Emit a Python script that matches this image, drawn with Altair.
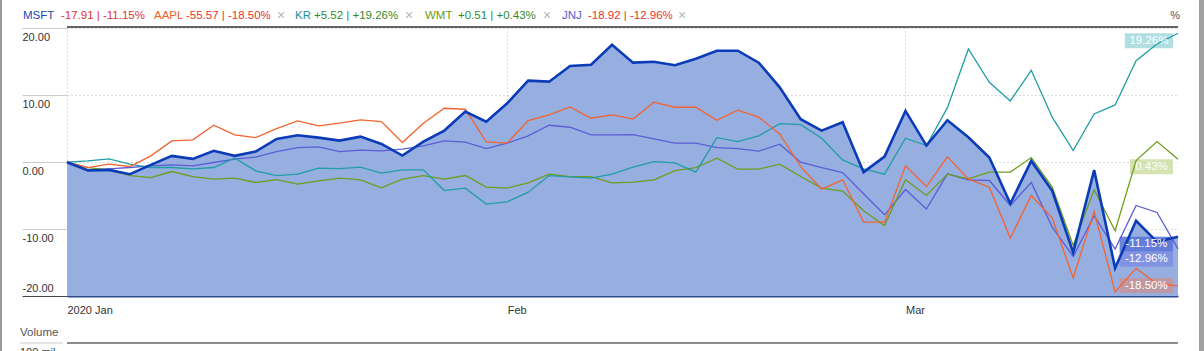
import altair as alt
import pandas as pd

# ---------------- data ----------------
dates = [
    "2020-01-02", "2020-01-03", "2020-01-06", "2020-01-07", "2020-01-08", "2020-01-09", "2020-01-10",
    "2020-01-13", "2020-01-14", "2020-01-15", "2020-01-16", "2020-01-17", "2020-01-21", "2020-01-22",
    "2020-01-23", "2020-01-24", "2020-01-27", "2020-01-28", "2020-01-29", "2020-01-30", "2020-01-31",
    "2020-02-03", "2020-02-04", "2020-02-05", "2020-02-06", "2020-02-07", "2020-02-10", "2020-02-11",
    "2020-02-12", "2020-02-13", "2020-02-14", "2020-02-18", "2020-02-19", "2020-02-20", "2020-02-21",
    "2020-02-24", "2020-02-25", "2020-02-26", "2020-02-27", "2020-02-28",
    "2020-03-02", "2020-03-03", "2020-03-04", "2020-03-05", "2020-03-06", "2020-03-09", "2020-03-10",
    "2020-03-11", "2020-03-12", "2020-03-13", "2020-03-16", "2020-03-17", "2020-03-18", "2020-03-19",
]
msft = [0, -1.25, -1.15, -1.8, -0.4, 0.94, 0.49, 1.69, 0.94, 1.58, 3.48, 4.03, 3.67, 3.22, 3.82, 2.73,
        0.99, 3.07, 4.72, 7.55, 6.06, 8.8, 12.18, 12.03, 14.37, 14.57, 17.55, 14.87, 15.01, 14.48, 15.46,
        16.66, 16.66, 14.87, 11.19, 6.42, 4.72, 5.97, -1.49, 0.84, 7.66, 2.48, 6.27, 3.73, 0.69, -6.18,
        0.19, -4.28, -13.49, -1.19, -15.82, -8.76, -11.9, -11.15]
aapl = [0, -0.8, -0.3, -0.65, 0.94, 3.18, 3.33, 5.52, 4.07, 3.67, 5.01, 6.16, 5.42, 5.82, 6.31, 6.06,
        2.93, 5.82, 8.06, 7.91, 3.03, 2.84, 6.21, 7.06, 8.25, 6.57, 7.06, 6.46, 8.96, 8.21, 8.21, 6.27,
        7.76, 6.72, 4.22, -0.66, -4.03, -2.64, -8.96, -8.96, -0.55, -3.64, 0.79, -2.49, -3.73, -11.34,
        -4.98, -8.36, -17.31, -7.37, -19.4, -15.88, -18.16, -18.50]
kr = [0, 0.19, 0.49, -0.3, -0.8, -0.8, -1.0, -0.8, 0.64, -1.3, -2.0, -1.8, -0.9, -0.95, -0.75, -1.64,
      -1.15, -1.15, -4.24, -3.88, -6.27, -5.92, -4.48, -2.0, -2.19, -2.39, -1.79, -0.75, 0.09, -0.1,
      -1.49, 3.67, 3.07, 3.93, 5.76, 5.61, 3.58, 0.34, -1.0, -1.79, 3.58, 2.48, 8.15, 16.91, 11.94, 9.15,
      13.73, 6.72, 1.73, 7.21, 8.55, 15.16, 17.66, 19.26]
wmt = [0, -0.8, -1.15, -2.0, -2.3, -1.4, -2.15, -2.54, -2.39, -3.04, -2.6, -3.28, -2.79, -2.39, -2.64,
       -3.84, -2.54, -2.0, -2.54, -2.0, -3.73, -3.88, -3.09, -1.79, -2.15, -2.15, -3.09, -2.99, -2.64,
       -1.25, -0.8, 0.6, -1.05, -1.05, -0.3, -2.15, -3.88, -4.33, -7.27, -9.46, -2.64, -4.98, -1.79,
       -2.49, -1.49, -1.49, 0.69, -3.73, -12.45, -4.13, -10.25, 0.24, 3.07, 0.43]
jnj = [0, -1.15, -1.0, -0.8, -0.55, -0.4, -0.55, -0.05, 0.45, 0.75, 1.58, 2.18, 2.28, 1.58, 1.79, 1.69,
       1.94, 2.43, 3.18, 2.99, 2.03, 2.84, 3.93, 5.52, 5.22, 4.07, 4.07, 4.12, 3.48, 2.84, 2.84, 2.18,
       2.03, 1.64, 2.69, 0.0, -0.8, -1.55, -4.73, -7.87, -4.08, -7.01, -1.75, -2.64, -2.74, -6.47,
       -3.04, -9.7, -14.09, -8.01, -12.99, -6.47, -7.52, -12.96]

tickers = ["MSFT", "AAPL", "KR", "WMT", "JNJ"]
price_change = ["-17.91", "-55.57", "+5.52", "+0.51", "-18.92"]
pct_change = ["-11.15%", "-18.50%", "+19.26%", "+0.43%", "-12.96%"]
y_ticks = [20, 10, 0, -10, -20]
month_labels = ["2020 Jan", "Feb", "Mar"]

# ---------------- style ----------------
FONT = "Liberation Sans"
W, H = 1111, 269
Y_MIN, Y_MAX = -20, 20.2
line_colors = {"MSFT": "#0b3cb8", "AAPL": "#f4632f", "KR": "#1f9ea3", "WMT": "#6f9c1c", "JNJ": "#5b5ed6"}
legend_colors = {"MSFT": "#2346b0", "AAPL": "#f2612a", "KR": "#1f93a0", "WMT": "#6d9a14", "JNJ": "#5560d0"}
box_colors = {"MSFT": "#5d76d8", "AAPL": "#c2969e", "KR": "#a9dadd", "WMT": "#cfe0a8", "JNJ": "#7e90e2"}
AREA_FILL = "#97aee0"

idx = list(range(len(dates)))
series = {"MSFT": msft, "AAPL": aapl, "KR": kr, "WMT": wmt, "JNJ": jnj}
df = pd.DataFrame({"idx": idx, "date": dates, **series})

# month starts (first trading day of each month)
month_idx = []
seen = set()
for i, d in enumerate(dates):
    m = d[:7]
    if m not in seen:
        seen.add(m)
        month_idx.append(i)
label_expr = " : ".join(
    f"datum.value == {i} ? '{lab}'" for i, lab in zip(month_idx, month_labels)
) + " : ''"

xscale = alt.Scale(domain=[0, len(dates) - 1], nice=False, zero=False)
yscale = alt.Scale(domain=[Y_MIN, Y_MAX], nice=False, zero=False)

xaxis = alt.Axis(values=month_idx, labelExpr=label_expr, title=None, grid=True,
                 gridDash=[1, 3], gridColor="#b8b8b8", ticks=False, labelAlign="left",
                 labelBaseline="top", labelPadding=8, labelFontSize=11, labelColor="#333333",
                 labelFont=FONT, domainColor="#2d4a8c", domainWidth=2)
yaxis = alt.Axis(values=y_ticks, title=None, grid=True, gridDash=[1, 3], gridColor="#b8b8b8",
                 domain=False, tickSize=45, tickWidth=1.2,
                 tickColor={"condition": {"test": "datum.value <= -20", "value": "#444444"}, "value": "#cccccc"},
                 labelAlign="left", labelPadding=0, labelFontSize=11, labelColor="#333333", labelFont=FONT,
                 labelBaseline={"condition": {"test": "datum.value <= -20", "value": "bottom"}, "value": "top"},
                 labelOffset={"condition": {"test": "datum.value <= -20", "value": -3}, "value": 3},
                 labelExpr="(datum.value < 0 ? '-' : '') + format(abs(datum.value), '.2f')")

X = alt.X("idx:Q", scale=xscale, axis=xaxis)

area = alt.Chart(df).mark_area(color=AREA_FILL, opacity=1).encode(
    x=X, y=alt.Y("MSFT:Q", scale=yscale, axis=yaxis), y2=alt.datum(Y_MIN)
)

# value label boxes at the right end
px_per_idx = W / (len(dates) - 1)
px_per_unit = H / (Y_MAX - Y_MIN)
box_h = 15 / px_per_unit
right = (len(dates) - 1) - 5 / px_per_idx
rows = []
order = sorted(tickers, key=lambda t: -series[t][-1])
prev_bottom = Y_MAX
for t in order:
    v = series[t][-1]
    top = min(v, prev_bottom)
    prev_bottom = top - box_h
    rows.append([t, v, top])
# push up from the bottom edge
limit = Y_MIN + 3 / px_per_unit
for k in range(len(rows) - 1, -1, -1):
    bottom = rows[k][2] - box_h
    if bottom < limit:
        rows[k][2] += limit - bottom
        limit = rows[k][2]
    else:
        break
lab_rows = []
for t, v, top in rows:
    txt = f"{v:.2f}%"
    w = (5.2 * len(txt) + 17) / px_per_idx
    lab_rows.append({"t": t, "lab": txt, "x0": right - w, "x1": right, "xc": right - w / 2,
                     "top": top, "bot": top - box_h, "yc": top - box_h / 2, "fill": box_colors[t]})
lab_df = pd.DataFrame(lab_rows)

boxes = alt.Chart(lab_df).mark_rect(opacity=0.9).encode(
    x=alt.X("x0:Q", scale=xscale, axis=xaxis), x2="x1:Q",
    y=alt.Y("top:Q", scale=yscale, axis=yaxis), y2="bot:Q",
    color=alt.Color("fill:N", scale=None),
)
box_text = alt.Chart(lab_df).mark_text(color="white", fontSize=11.5, font=FONT, baseline="middle").encode(
    x=alt.X("xc:Q", scale=xscale, axis=xaxis), y=alt.Y("yc:Q", scale=yscale, axis=yaxis), text="lab:N"
)

lines = []
for t in ["JNJ", "WMT", "KR", "AAPL", "MSFT"]:
    lines.append(
        alt.Chart(df).mark_line(color=line_colors[t], strokeWidth=2.6 if t == "MSFT" else 1.3).encode(
            x=X, y=alt.Y(f"{t}:Q", scale=yscale, axis=yaxis)
        )
    )

# top border
top_rule = alt.Chart(df).mark_rule(color="#666666", strokeWidth=1.5).encode(y=alt.value(0))

# legend row (coloured text)
legend_layout = [  # (text, colour, x in px from plot left)
    ("MSFT", legend_colors["MSFT"], -44), (price_change[0] + " | " + pct_change[0], "#e8322c", -6),
    ("AAPL", legend_colors["AAPL"], 87), (price_change[1] + " | " + pct_change[1], "#e8322c", 119),
    ("\u00d7", "#b5b5b5", 210),
    ("KR", legend_colors["KR"], 228), (price_change[2] + " | " + pct_change[2], "#2e8b2e", 247),
    ("\u00d7", "#b5b5b5", 338),
    ("WMT", legend_colors["WMT"], 358), (price_change[3] + " | " + pct_change[3], "#2e8b2e", 391),
    ("\u00d7", "#b5b5b5", 476),
    ("JNJ", legend_colors["JNJ"], 495), (price_change[4] + " | " + pct_change[4], "#e8322c", 521),
    ("\u00d7", "#b5b5b5", 611),
]
legend_layers = []
for txt, col, px in legend_layout:
    legend_layers.append(
        alt.Chart(pd.DataFrame({"t": [txt]})).mark_text(
            align="left", baseline="middle", font=FONT, fontSize=14 if txt == "\u00d7" else 11.5, color=col
        ).encode(text="t:N", x=alt.value(px), y=alt.value(-11))
    )
pct_unit = alt.Chart(pd.DataFrame({"t": ["%"]})).mark_text(
    align="right", baseline="middle", font=FONT, fontSize=11, color="#555555"
).encode(text="t:N", x=alt.value(W + 2), y=alt.value(-11))

# volume pane header (below)
vol_label = alt.Chart(pd.DataFrame({"t": ["Volume"]})).mark_text(
    align="left", baseline="middle", font=FONT, fontSize=11.5, color="#555555"
).encode(text="t:N", x=alt.value(-47), y=alt.value(306))
vol_line = alt.Chart(pd.DataFrame({"a": [0]})).mark_rule(color="#666666", strokeWidth=1.5).encode(
    x=alt.value(0), x2=alt.value(W), y=alt.value(316))
vol_tick = alt.Chart(pd.DataFrame({"a": [0]})).mark_rule(color="#cccccc", strokeWidth=1.2).encode(
    x=alt.value(-47), x2=alt.value(-4), y=alt.value(316))
vol_axis = alt.Chart(pd.DataFrame({"t": ["100 mil"]})).mark_text(
    align="left", baseline="top", font=FONT, fontSize=11, color="#333333"
).encode(text="t:N", x=alt.value(-47), y=alt.value(320))

# frame edges
left_edge = alt.Chart(pd.DataFrame({"a": [0]})).mark_rule(color="#9a9a9a", strokeWidth=2).encode(
    x=alt.value(-66), y=alt.value(-27), y2=alt.value(324))
right_edge = alt.Chart(pd.DataFrame({"a": [0]})).mark_rule(color="#a0a0a0", strokeWidth=5).encode(
    x=alt.value(W + 23.5), y=alt.value(-27), y2=alt.value(324))

chart = alt.layer(
    area, boxes, *lines, box_text, top_rule, *legend_layers, pct_unit,
    vol_label, vol_line, vol_tick, vol_axis, left_edge, right_edge
).properties(
    width=W, height=H,
    padding={"left": 67, "top": 27, "right": 26, "bottom": 55},
    autosize=alt.AutoSizeParams(type="none"),
    background="white",
).configure_view(stroke=None)

chart.save("out.html", embed_options={"renderer": "svg", "actions": False})
